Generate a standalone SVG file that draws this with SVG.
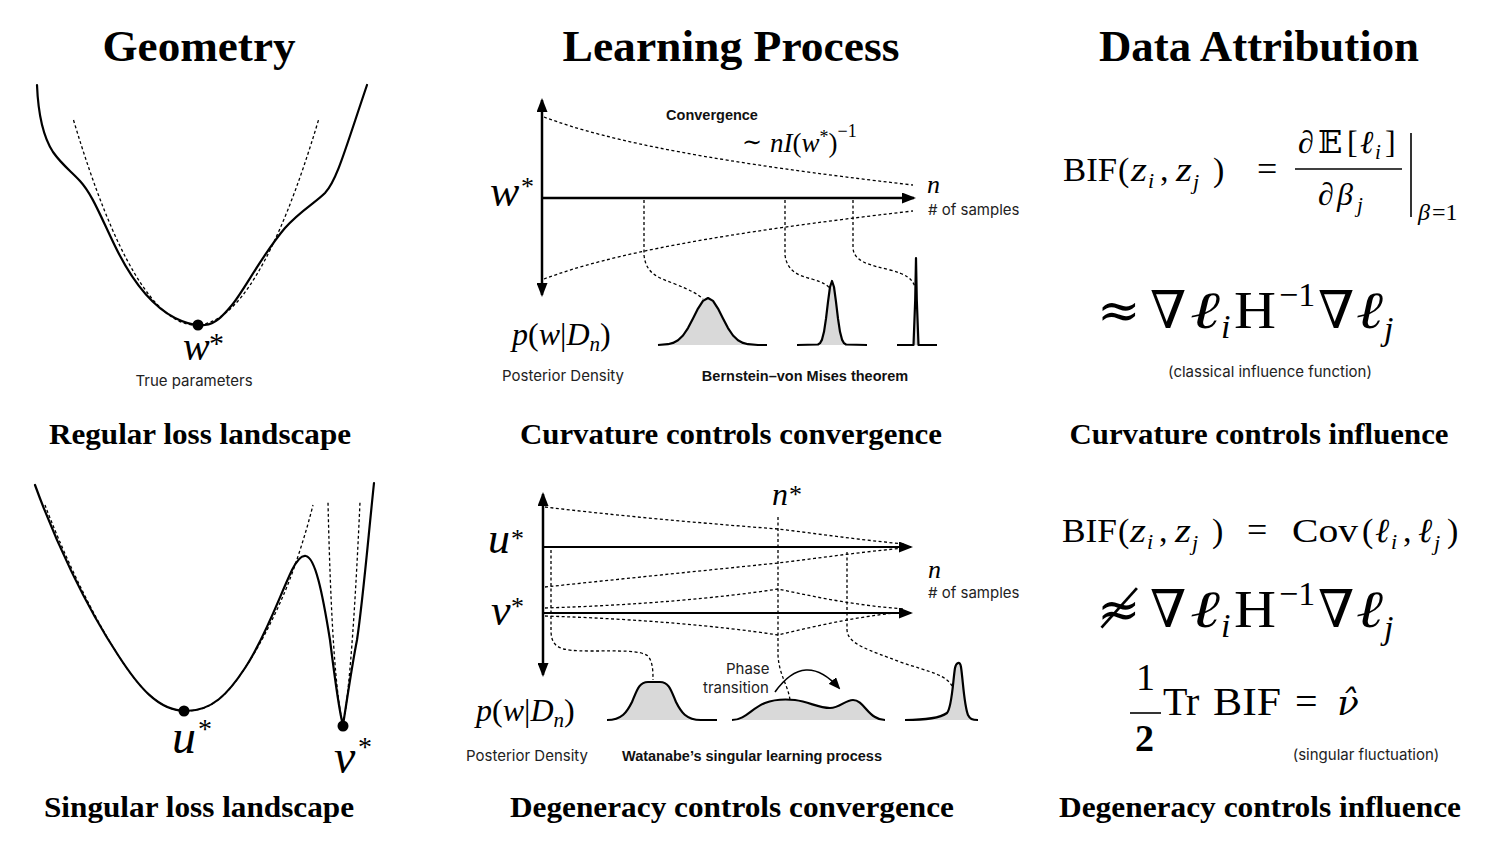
<svg xmlns="http://www.w3.org/2000/svg" width="1500" height="844" viewBox="0 0 1500 844">
<style>
.title{font-family:"Liberation Serif",serif;font-weight:bold;font-size:45px;text-anchor:middle;fill:#000}
.sub{font-family:"Liberation Serif",serif;font-weight:bold;font-size:30px;text-anchor:middle;fill:#000}
.lbl{font-family:Inter,"Liberation Sans",sans-serif;font-size:15px;fill:#222}
.c{text-anchor:middle}
.bl{font-family:"Liberation Sans",Arial,sans-serif;font-weight:bold;font-size:14.5px;fill:#111}
.m{font-family:"Liberation Serif","DejaVu Serif",serif;fill:#000}
.mi{font-family:"Liberation Serif","DejaVu Serif",serif;font-style:italic;fill:#000}
.sym{font-family:"DejaVu Serif",serif;fill:#000}
.curve{fill:none;stroke:#000;stroke-width:2.2;stroke-linejoin:round;stroke-linecap:round}
.dash{fill:none;stroke:#000;stroke-width:1.3;stroke-dasharray:3 2.5}
.axis{stroke:#000;stroke-width:2.5;fill:none}
.axis2{stroke:#000;stroke-width:2;fill:none}
.dist{fill:#d9d9d9;stroke:#000;stroke-width:2.2;stroke-linejoin:round}
.rule{stroke:#000;stroke-width:1.6}
</style>
<defs>
<marker id="ah" viewBox="0 0 14 11" refX="12" refY="5.5" markerWidth="14" markerHeight="11" markerUnits="userSpaceOnUse" orient="auto-start-reverse">
<path d="M0,0 L14,5.5 L0,11 z" fill="#000"/>
</marker>
<marker id="ahs" viewBox="0 0 12 10" refX="10" refY="5" markerWidth="12" markerHeight="10" markerUnits="userSpaceOnUse" orient="auto">
<path d="M0,0 L12,5 L0,10 z" fill="#000"/>
</marker>
</defs>

<!-- Column titles -->
<g id="titles">
<text class="title" x="199" y="61" textLength="193" lengthAdjust="spacingAndGlyphs">Geometry</text>
<text class="title" x="731" y="61" textLength="337" lengthAdjust="spacingAndGlyphs">Learning Process</text>
<text class="title" x="1259" y="61" textLength="320" lengthAdjust="spacingAndGlyphs">Data Attribution</text>
</g>

<!-- Subtitles -->
<g id="subtitles">
<text class="sub" x="200" y="444" textLength="302" lengthAdjust="spacingAndGlyphs">Regular loss landscape</text>
<text class="sub" x="731" y="444" textLength="422" lengthAdjust="spacingAndGlyphs">Curvature controls convergence</text>
<text class="sub" x="1259" y="444" textLength="379" lengthAdjust="spacingAndGlyphs">Curvature controls influence</text>
<text class="sub" x="199" y="817" textLength="310" lengthAdjust="spacingAndGlyphs">Singular loss landscape</text>
<text class="sub" x="732" y="817" textLength="444" lengthAdjust="spacingAndGlyphs">Degeneracy controls convergence</text>
<text class="sub" x="1260" y="817" textLength="402" lengthAdjust="spacingAndGlyphs">Degeneracy controls influence</text>
</g>

<!-- Regular loss landscape -->
<g id="regular-landscape">
<path class="dash" d="M73.5,120 Q196,530 318.5,120"/>
<path class="curve" d="M37,85 C38,110 42,135 53,152 C62,165 72,172 80,181 C92,194 100,215 115,246 C130,277 150,305 175,318 C187,324 196,326 205,325 C215,324 222,317 232,305 C245,289 262,255 285,228 C300,211 315,203 325,193 C337,180 345,150 367,85"/>
<circle cx="198" cy="325" r="5.5" fill="#000"/>
<text class="mi" x="183" y="360" font-size="40">w</text>
<text class="m" x="209" y="353" font-size="30">*</text>
<text class="lbl c" x="194" y="386">True parameters</text>
</g>

<!-- Singular loss landscape -->
<g id="singular-landscape">
<path class="dash" d="M45,505 C60,545 88,608 118,655 C138,686 158,711 186,711 C212,711 228,694 245,668 C265,638 285,595 295,565 C302,545 308,525 313,505"/>
<path class="dash" d="M343,725 Q332,680 328,502"/>
<path class="dash" d="M343,725 Q352,680 360,502"/>
<path class="curve" d="M35,485 C55,540 85,605 118,655 C138,686 158,711 186,711 C212,711 228,694 245,668 C265,638 280,595 292,570 C298,558 302,555 306,556 C315,558 322,590 330,640 C335,680 340,715 343,725 C347,700 352,665 357,640 C363,600 368,540 374,483"/>
<circle cx="184" cy="711" r="5.5" fill="#000"/>
<circle cx="343" cy="726" r="5.5" fill="#000"/>
<text class="mi" x="172" y="753" font-size="48">u</text>
<text class="m" x="198" y="738" font-size="28">*</text>
<text class="mi" x="334" y="773" font-size="48">v</text>
<text class="m" x="358" y="756" font-size="28">*</text>
</g>

<!-- Regular learning process -->
<g id="regular-process">
<line class="axis" x1="542" y1="295" x2="542" y2="100" marker-start="url(#ah)" marker-end="url(#ah)"/>
<line class="axis" x1="542" y1="198" x2="914" y2="198" marker-end="url(#ah)"/>
<path class="dist" d="M658,345 L668,344.2 L673,342.9 L678,340.3 L683,335.5 L688,328.1 L693,318.5 L698,308.6 L703,300.9 L708,298 L713,300.9 L718,308.6 L723,318.5 L728,328.1 L733,335.5 L738,340.3 L743,342.9 L748,344.2 L758,345 L767,345"/>
<path class="dist" d="M797,345 L818,344.5 L820,343.2 L822,339.6 L824,331.8 L826,318.7 L828,301.9 L830,287 L832,281 L834,287 L836,301.9 L838,318.7 L840,331.8 L842,339.6 L844,343.2 L846,344.5 L867,345"/>
<path class="dist" d="M897,345 L913.5,345 L915.2,300 L916,258 L916.8,300 L918.5,345 L937,345"/>
<text class="bl c" x="712" y="120">Convergence</text>
<text class="sym" x="742" y="150" font-size="24">∼</text>
<text class="mi" x="770" y="152" font-size="27">n<tspan>I</tspan><tspan class="m" font-style="normal">(</tspan>w<tspan class="m" font-style="normal" font-size="18" dy="-9">*</tspan><tspan class="m" font-style="normal" dy="9">)</tspan><tspan class="m" font-style="normal" font-size="18" dy="-15">−1</tspan></text>
<text class="mi" x="490" y="206" font-size="44">w</text>
<text class="m" x="521" y="195" font-size="26">*</text>
<text class="mi" x="927" y="193" font-size="26">n</text>
<text class="lbl" x="928" y="215" font-size="14.5"># of samples</text>
<text class="m" x="512" y="345" font-size="32"><tspan font-style="italic">p</tspan>(<tspan font-style="italic">w</tspan>|<tspan font-style="italic">D</tspan><tspan font-style="italic" font-size="21" dy="6">n</tspan><tspan dy="-6">)</tspan></text>
<text class="lbl c" x="563" y="381">Posterior Density</text>
<text class="bl c" x="805" y="381">Bernstein–von Mises theorem</text>
</g>

<!-- Singular learning process -->
<g id="singular-process">
<line class="axis" x1="543" y1="675" x2="543" y2="494" marker-start="url(#ah)" marker-end="url(#ah)"/>
<line class="axis2" x1="543" y1="547" x2="911" y2="547" marker-end="url(#ah)"/>
<line class="axis2" x1="543" y1="613" x2="911" y2="613" marker-end="url(#ah)"/>
<path class="dist" d="M607,720 C622,720 627,712 632,702 C637,690 639,682 648,682 L660,682 C669,682 671,690 676,702 C681,712 686,720 701,720 L717,720"/>
<path class="dist" d="M732,720 C745,720 752,708 765,703 C775,699 785,699 795,700 C810,702 818,708 830,708 C840,708 845,700 853,700 C862,700 866,712 875,717 C878,719 880,720 885,720"/>
<path class="dist" d="M905,720 C925,720 940,718 947,713 C952,708 953,680 955,668 C956,663 960,660 961,667 C963,680 964,705 968,715 C970,719 972,720 978,720"/>
<text class="mi" x="772" y="505" font-size="32">n</text>
<text class="m" x="789" y="503" font-size="26">*</text>
<text class="mi" x="488" y="553" font-size="44">u</text>
<text class="m" x="511" y="547" font-size="26">*</text>
<text class="mi" x="491" y="625" font-size="44">v</text>
<text class="m" x="511" y="615" font-size="26">*</text>
<text class="mi" x="928" y="578" font-size="26">n</text>
<text class="lbl" x="928" y="598" font-size="14.5"># of samples</text>
<text class="m" x="476" y="721" font-size="32"><tspan font-style="italic">p</tspan>(<tspan font-style="italic">w</tspan>|<tspan font-style="italic">D</tspan><tspan font-style="italic" font-size="21" dy="6">n</tspan><tspan dy="-6">)</tspan></text>
<text class="lbl" x="726" y="674">Phase</text>
<text class="lbl" x="703" y="693">transition</text>
<text class="lbl c" x="527" y="761">Posterior Density</text>
<text class="bl c" x="752" y="761">Watanabe’s singular learning process</text>
</g>

<!-- Connectors -->
<g id="connectors">
<path class="dash" d="M544,117 C610,142 720,163 913,185"/>
<path class="dash" d="M544,279 C610,254 720,233 913,211"/>
<path class="dash" d="M644,200 V255 C646,275 660,278 675,284 C690,290 698,294 703,299"/>
<path class="dash" d="M785,200 V255 C787,272 800,276 812,279 C822,282 828,285 830,289"/>
<path class="dash" d="M853,200 V248 C854,262 870,265 890,270 C905,274 912,278 915,287"/>
<path class="dash" d="M545,507 C620,516 700,523 778,529 C820,534 860,540 905,544"/>
<path class="dash" d="M545,587 C620,579 700,571 778,563 C820,558 860,552 905,548"/>
<path class="dash" d="M545,608 C640,605 720,598 778,589 C820,598 860,606 905,609"/>
<path class="dash" d="M545,616 C640,619 720,626 778,635 C820,625 860,616 905,612"/>
<path class="dash" d="M778,517 V655 C779,675 788,685 790,700"/>
<path class="dash" d="M847,552 V630 C848,645 870,650 900,662 C930,672 948,675 953,688"/>
<path class="dash" d="M551,550 V632 C552,648 560,651 590,651 C620,651 640,650 648,656 C653,662 653,672 653,680"/>
<path d="M775,692 Q805,650 839,688" fill="none" stroke="#000" stroke-width="1.6" marker-end="url(#ahs)"/>
</g>

<!-- Classical influence formula -->
<g id="classical-formula">
<text class="m" x="1063" y="181" font-size="34" textLength="54" lengthAdjust="spacingAndGlyphs">BIF</text>
<text class="m" x="1118" y="181" font-size="34">(</text>
<text class="mi" x="1131" y="181" font-size="34" textLength="16" lengthAdjust="spacingAndGlyphs">z</text>
<text class="mi" x="1148" y="188" font-size="22">i</text>
<text class="m" x="1160" y="181" font-size="34">,</text>
<text class="mi" x="1176" y="181" font-size="34" textLength="16" lengthAdjust="spacingAndGlyphs">z</text>
<text class="mi" x="1193" y="189" font-size="22">j</text>
<text class="m" x="1213" y="181" font-size="34">)</text>
<text class="m" x="1257" y="181" font-size="36">=</text>
<text class="m" x="1298" y="153" font-size="32">∂</text>
<text class="m" x="1318" y="153" font-size="32">𝔼</text>
<text class="m" x="1347" y="153" font-size="32">[</text>
<text class="mi" x="1360" y="153" font-size="32">ℓ</text>
<text class="mi" x="1375" y="159" font-size="21">i</text>
<text class="m" x="1385" y="153" font-size="32">]</text>
<line class="rule" x1="1295" y1="169" x2="1402" y2="169"/>
<text class="m" x="1318" y="205" font-size="32">∂</text>
<text class="mi" x="1337" y="205" font-size="32">β</text>
<text class="mi" x="1357" y="212" font-size="21">j</text>
<line class="rule" x1="1411" y1="133" x2="1411" y2="217"/>
<text class="mi" x="1418" y="220" font-size="24">β</text>
<text class="m" x="1432" y="220" font-size="24">=1</text>
<text class="sym" x="1097" y="328" font-size="52">≈</text>
<text class="sym" x="1150" y="328" font-size="52">∇</text>
<text class="mi" x="1190" y="328" font-size="52" textLength="30" lengthAdjust="spacingAndGlyphs">ℓ</text>
<text class="mi" x="1221" y="338" font-size="34">i</text>
<text class="m" x="1234" y="328" font-size="52" textLength="42" lengthAdjust="spacingAndGlyphs">H</text>
<text class="m" x="1279" y="306" font-size="34">−1</text>
<text class="sym" x="1318" y="328" font-size="52">∇</text>
<text class="mi" x="1356" y="328" font-size="52" textLength="27" lengthAdjust="spacingAndGlyphs">ℓ</text>
<text class="mi" x="1384" y="340" font-size="34">j</text>
<text class="lbl c" x="1270" y="377" font-size="14.5">(classical influence function)</text>
</g>

<!-- Bayesian influence formula -->
<g id="bayesian-formula">
<text class="m" x="1062" y="542" font-size="34" textLength="55" lengthAdjust="spacingAndGlyphs">BIF</text>
<text class="m" x="1118" y="542" font-size="34">(</text>
<text class="mi" x="1130" y="542" font-size="34" textLength="16" lengthAdjust="spacingAndGlyphs">z</text>
<text class="mi" x="1147" y="549" font-size="22">i</text>
<text class="m" x="1159" y="542" font-size="34">,</text>
<text class="mi" x="1175" y="542" font-size="34" textLength="16" lengthAdjust="spacingAndGlyphs">z</text>
<text class="mi" x="1192" y="550" font-size="22">j</text>
<text class="m" x="1212" y="542" font-size="34">)</text>
<text class="m" x="1247" y="542" font-size="36">=</text>
<text class="m" x="1292" y="542" font-size="34" textLength="66" lengthAdjust="spacingAndGlyphs">Cov</text>
<text class="m" x="1362" y="542" font-size="34">(</text>
<text class="mi" x="1375" y="542" font-size="34">ℓ</text>
<text class="mi" x="1391" y="549" font-size="22">i</text>
<text class="m" x="1403" y="542" font-size="34">,</text>
<text class="mi" x="1418" y="542" font-size="34">ℓ</text>
<text class="mi" x="1434" y="550" font-size="22">j</text>
<text class="m" x="1447" y="542" font-size="34">)</text>
<text class="sym" x="1097" y="627" font-size="52">≉</text>
<text class="sym" x="1150" y="627" font-size="52">∇</text>
<text class="mi" x="1190" y="627" font-size="52" textLength="30" lengthAdjust="spacingAndGlyphs">ℓ</text>
<text class="mi" x="1221" y="637" font-size="34">i</text>
<text class="m" x="1234" y="627" font-size="52" textLength="42" lengthAdjust="spacingAndGlyphs">H</text>
<text class="m" x="1279" y="605" font-size="34">−1</text>
<text class="sym" x="1318" y="627" font-size="52">∇</text>
<text class="mi" x="1356" y="627" font-size="52" textLength="27" lengthAdjust="spacingAndGlyphs">ℓ</text>
<text class="mi" x="1384" y="639" font-size="34">j</text>
<text class="m" x="1136" y="690" font-size="38">1</text>
<line class="rule" x1="1130" y1="713" x2="1161" y2="713"/>
<text class="m" x="1135" y="751" font-size="38" font-weight="bold">2</text>
<text class="m" x="1163" y="715" font-size="40">Tr</text>
<text class="m" x="1213" y="715" font-size="40" textLength="68" lengthAdjust="spacingAndGlyphs">BIF</text>
<text class="m" x="1295" y="715" font-size="40">=</text>
<text class="sym" x="1337" y="715" font-size="36" font-style="italic">ν̂</text>
<text class="lbl c" x="1366" y="760" font-size="14.5">(singular fluctuation)</text>
</g>
</svg>
